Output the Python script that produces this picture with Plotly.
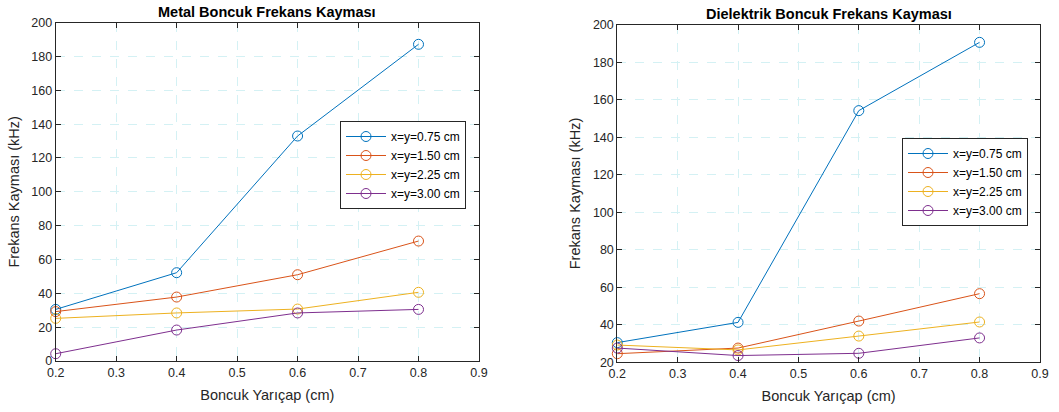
import plotly.graph_objects as go

radius = [0.2, 0.4, 0.6, 0.8]
series_names = ["x=y=0.75 cm", "x=y=1.50 cm", "x=y=2.25 cm", "x=y=3.00 cm"]
colors = ["#0072BD", "#D95319", "#EDB120", "#7E2F8E"]

metal_075 = [30.5, 52.2, 133.0, 187.2]
metal_150 = [29.2, 37.8, 51.0, 70.9]
metal_225 = [25.2, 28.4, 30.7, 40.6]
metal_300 = [4.3, 18.3, 28.4, 30.5]

diel_075 = [30.5, 41.3, 154.2, 190.6]
diel_150 = [24.6, 27.6, 42.0, 56.6]
diel_225 = [29.2, 26.6, 34.0, 41.5]
diel_300 = [27.6, 23.6, 24.8, 33.0]

x_ticks = [0.2, 0.3, 0.4, 0.5, 0.6, 0.7, 0.8, 0.9]
metal_yticks = list(range(0, 201, 20))
diel_yticks = list(range(20, 201, 20))

titles = ["Metal Boncuk Frekans Kayması", "Dielektrik Boncuk Frekans Kayması"]
xlabel = "Boncuk Yarıçap (cm)"
ylabel = "Frekans Kayması (kHz)"

FONT = "Liberation Sans, Arial, Helvetica, sans-serif"
fig = go.Figure()

for sets, xa, ya, leg in [
    ([metal_075, metal_150, metal_225, metal_300], "x", "y", "legend"),
    ([diel_075, diel_150, diel_225, diel_300], "x2", "y2", "legend2"),
]:
    for name, vals, c in zip(series_names, sets, colors):
        fig.add_trace(go.Scatter(
            x=radius, y=vals, name=name, mode="lines+markers",
            line=dict(color=c, width=1),
            marker=dict(symbol="circle-open", size=10, color=c, line=dict(width=1, color=c)),
            xaxis=xa, yaxis=ya, legend=leg, cliponaxis=False,
        ))

axis_common = dict(
    showline=True, linecolor="#262626", linewidth=1, mirror="ticks",
    ticks="inside", ticklen=5, tickcolor="#262626",
    showgrid=True, gridcolor="#d4f1f4", griddash="dash", gridwidth=1,
    zeroline=False, automargin=False,
    tickfont=dict(family=FONT, size=12.5, color="#262626"),
    title_font=dict(family=FONT, size=14.5, color="#262626"),
)

fig.update_layout(
    width=1059, height=412,
    margin=dict(l=0, r=0, t=0, b=0),
    paper_bgcolor="white", plot_bgcolor="white",
    font=dict(family=FONT, color="#262626"),
    xaxis=dict(domain=[0.0526, 0.4523], range=[0.2, 0.9], tickvals=x_ticks,
               ticktext=[f"{v:.1f}" for v in x_ticks], anchor="y",
               title=dict(text=xlabel, standoff=10), **axis_common),
    yaxis=dict(domain=[0.1238, 0.945], range=[0, 200], tickvals=metal_yticks, anchor="x",
               title=dict(text=ylabel, standoff=8), **axis_common),
    xaxis2=dict(domain=[0.5829, 0.982], range=[0.2, 0.9], tickvals=x_ticks,
                ticktext=[f"{v:.1f}" for v in x_ticks], anchor="y2",
                title=dict(text=xlabel, standoff=10), **axis_common),
    yaxis2=dict(domain=[0.1206, 0.940], range=[20, 200], tickvals=diel_yticks, anchor="x2",
                title=dict(text=ylabel, standoff=8), **axis_common),
    legend=dict(x=466/1059, y=1-121/412, xanchor="right", yanchor="top",
                bordercolor="#262626", borderwidth=1, bgcolor="white",
                font=dict(family=FONT, size=12, color="#000"), itemwidth=40,
                tracegroupgap=0),
    legend2=dict(x=1028/1059, y=1-138/412, xanchor="right", yanchor="top",
                 bordercolor="#262626", borderwidth=1, bgcolor="white",
                 font=dict(family=FONT, size=12, color="#000"), itemwidth=40,
                 tracegroupgap=0),
    showlegend=True,
)

fig.add_annotation(text="<b>" + titles[0] + "</b>", x=(0.0526 + 0.4523) / 2, y=1 - 2/412,
                   xref="paper", yref="paper", xanchor="center", yanchor="top",
                   showarrow=False, font=dict(family=FONT, size=14.5, color="#000"))
fig.add_annotation(text="<b>" + titles[1] + "</b>", x=(0.5829 + 0.982) / 2, y=1 - 4/412,
                   xref="paper", yref="paper", xanchor="center", yanchor="top",
                   showarrow=False, font=dict(family=FONT, size=14.5, color="#000"))

fig.write_html("out.html")
